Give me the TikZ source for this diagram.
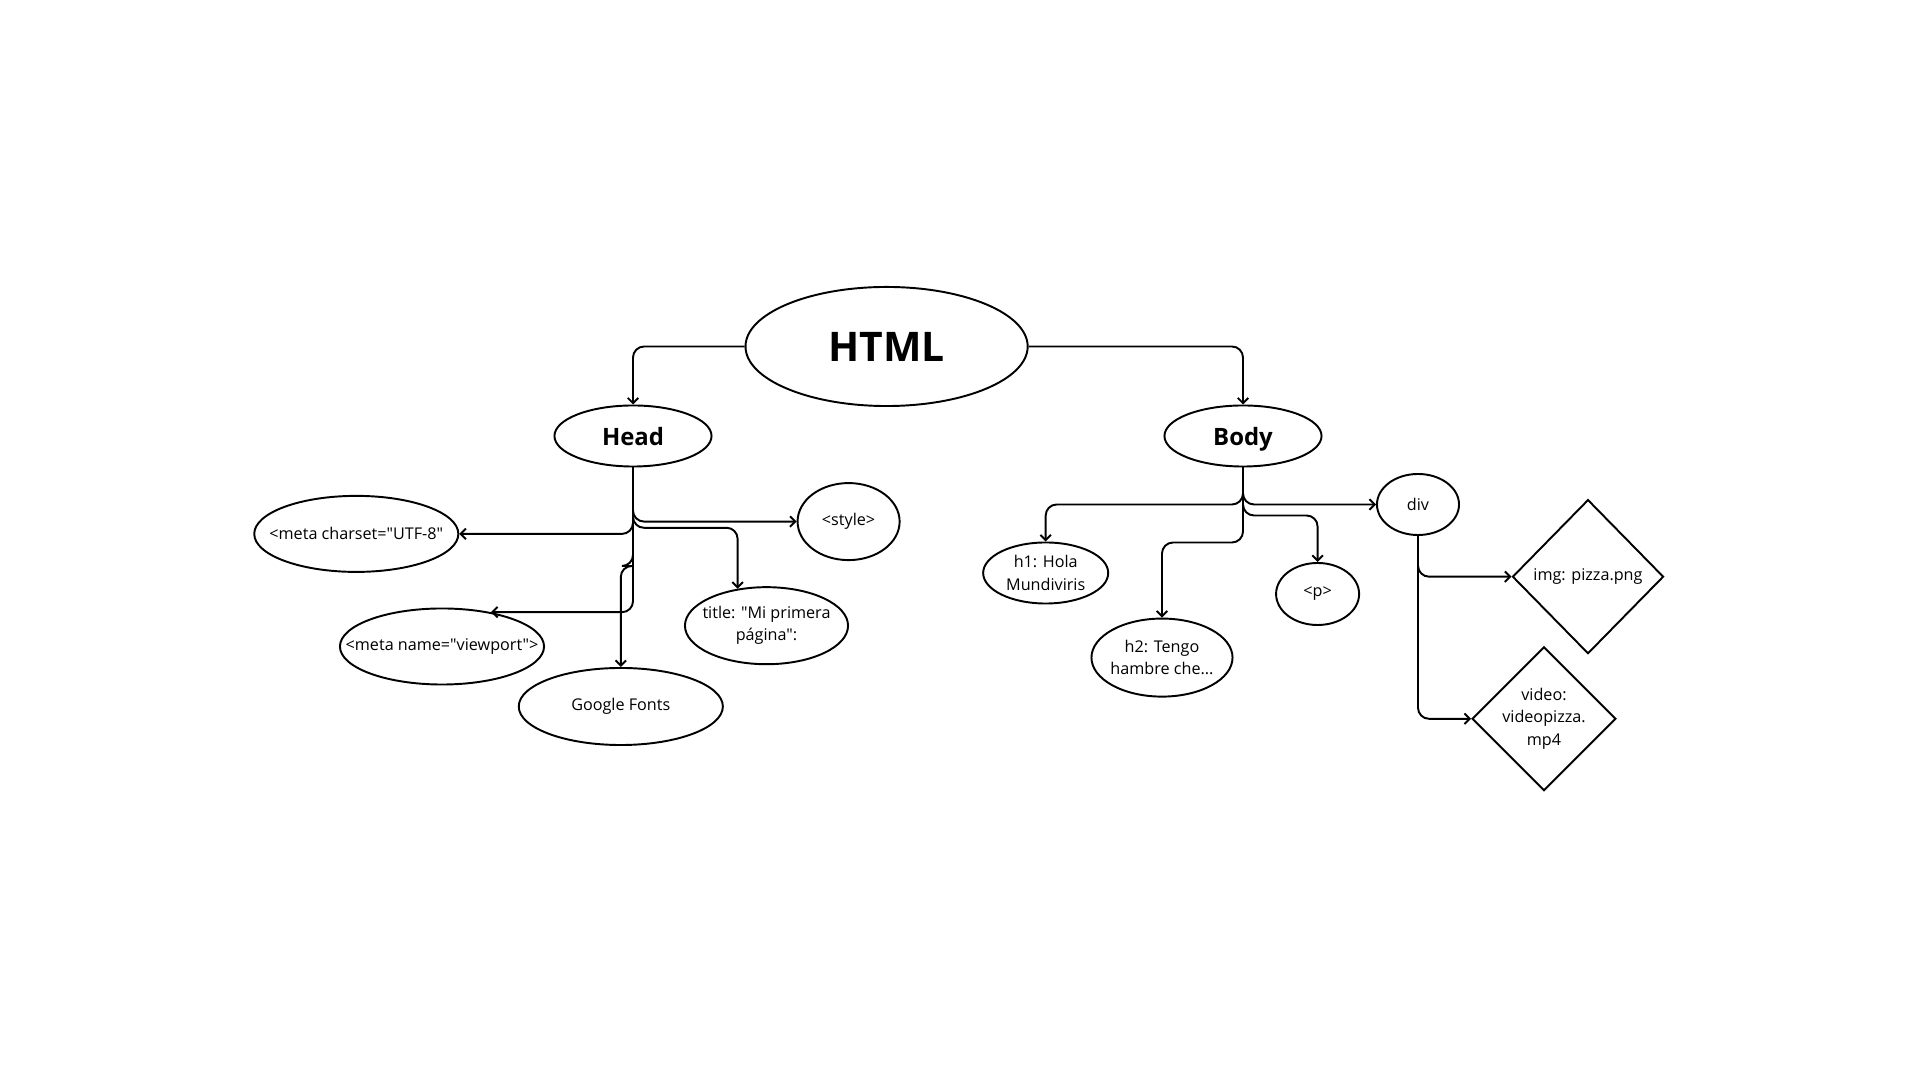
\documentclass[tikz,border=0pt]{standalone}
\usepackage{fontspec}
\setmainfont{Open Sans}[Ligatures=TeXOff]
\usetikzlibrary{shapes.geometric,arrows.meta}
\begin{document}
\begin{tikzpicture}[x=0.01cm,y=-0.01cm,
  every node/.style={draw, line width=0.55pt, inner sep=0pt, align=center},
  ell/.style={ellipse},
  dia/.style={diamond},
  small/.style={font=\fontsize{4.6}{6.3}\selectfont},
  big/.style={font=\fontsize{6.8}{8}\selectfont\bfseries, text depth=0pt},
  arr/.style={line width=0.55pt, rounded corners=0.11cm, -{Straight Barb[length=1.5pt,width=3pt]}}
]
\useasboundingbox[fill=white] (0,0) rectangle (1920,1080);

\node[ell, minimum width=2.82cm, minimum height=1.19cm, font=\fontsize{11.6}{13}\selectfont\bfseries] (html) at (886.6,346.5) {HTML};
\node[ell, big, minimum width=1.57cm, minimum height=0.61cm] (head) at (633,436) {Head};
\node[ell, big, minimum width=1.57cm, minimum height=0.61cm] (body) at (1243,436) {Body};

\node[ell, small, minimum width=2.04cm, minimum height=0.76cm] (charset) at (356.3,533.9) {\makebox[0pt]{<meta charset="UTF-8"}};
\node[ell, small, minimum width=1.02cm, minimum height=0.77cm] (style) at (848.6,521.6) {<style>};
\node[ell, small, minimum width=1.63cm, minimum height=0.77cm] (title) at (766.5,625.7) {\makebox[0pt]{title: "Mi primera}\\\makebox[0pt]{página":}};
\node[ell, small, minimum width=2.04cm, minimum height=0.76cm] (viewport) at (442,646.5) {\makebox[0pt]{<meta name="viewport">}};
\node[ell, small, minimum width=2.04cm, minimum height=0.77cm] (gfonts) at (620.8,706.5) {Google Fonts};

\node[ell, small, minimum width=1.25cm, minimum height=0.61cm] (h1) at (1045.7,573) {h1: Hola\\Mundiviris};
\node[ell, small, minimum width=0.82cm, minimum height=0.61cm] (div) at (1418,504.5) {div};
\node[ell, small, minimum width=0.83cm, minimum height=0.62cm] (p) at (1317.6,594) {<p>};
\node[ell, small, minimum width=1.41cm, minimum height=0.78cm] (h2) at (1162,657.6) {\makebox[0pt]{h2: Tengo}\\\makebox[0pt]{hambre che...}};
\node[dia, small, minimum width=1.51cm, minimum height=1.54cm] (img) at (1588,576.7) {img: pizza.png};
\node[dia, small, minimum width=1.43cm, minimum height=1.42cm] (video) at (1544,718.8) {video:\\videopizza.\\mp4};

% HTML -> Head / Body
\draw[arr] (html.west) -| (head.north);
\draw[arr] (html.east) -| (body.north);

% Head children
\draw[arr] (head.south) |- (charset.east);
\draw[arr] (head.south) |- (style.west);
\draw[arr] (head.south) |- (title.128 |- 0,527.8) -- (title.128);
\draw[arr] (head.south) |- (viewport.35);
\draw[arr] (head.south) |- (gfonts.north |- 0,566) -- (gfonts.north);

% Body children
\draw[arr] (body.south) |- (h1.north |- 0,504.5) -- (h1.north);
\draw[arr] (body.south) |- (div.west);
\draw[arr] (body.south) |- (p.north |- 0,515.5) -- (p.north);
\draw[arr] (body.south) |- (h2.north |- 0,542.5) -- (h2.north);

% div children
\draw[arr] (div.south) |- (img.west);
\draw[arr] (div.south) |- (video.west);
\end{tikzpicture}
\end{document}
